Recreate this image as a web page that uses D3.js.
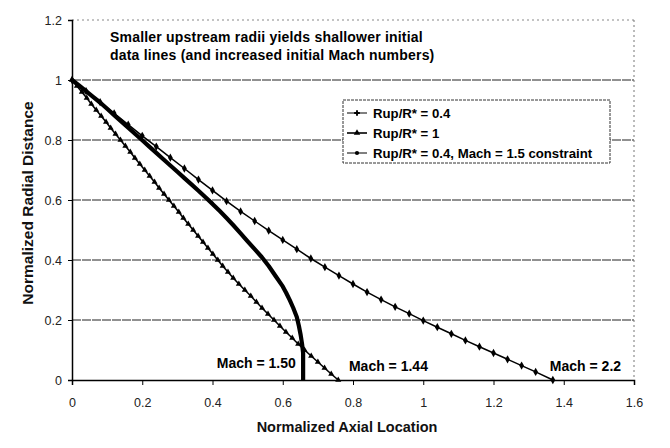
<!DOCTYPE html>
<html>
<head>
<meta charset="utf-8">
<script src="https://cdn.jsdelivr.net/npm/d3@7"></script>
<style>
  html, body { margin: 0; padding: 0; background: #fff; }
  svg { display: block; }
  text { font-family: "Liberation Sans", Arial, sans-serif; }
</style>
</head>
<body>
<svg id="chart" width="670" height="448"></svg>
<script>
// ---------- data ----------
const xTicks = [0, 0.2, 0.4, 0.6, 0.8, 1, 1.2, 1.4, 1.6];
const xTickLabels = ["0", "0.2", "0.4", "0.6", "0.8", "1", "1.2", "1.4", "1.6"];
const yTicks = [0, 0.2, 0.4, 0.6, 0.8, 1, 1.2];
const yTickLabels = ["0", "0.2", "0.4", "0.6", "0.8", "1", "1.2"];

const seriesNames = ["Rup/R* = 0.4", "Rup/R* = 1", "Rup/R* = 0.4, Mach = 1.5 constraint"];

// Rup/R* = 0.4  (ends at Mach = 2.2)
const rup04X = [0, 0.04, 0.08, 0.12, 0.16, 0.20, 0.24, 0.28, 0.32, 0.36, 0.40, 0.44, 0.48, 0.52, 0.56, 0.60,
  0.64, 0.68, 0.72, 0.76, 0.80, 0.84, 0.88, 0.92, 0.96, 1.00, 1.04, 1.08, 1.12, 1.16, 1.20, 1.24, 1.28, 1.32, 1.369];
const rup04Y = [1, 0.963, 0.926, 0.889, 0.851, 0.814, 0.778, 0.741, 0.705, 0.668, 0.632, 0.596, 0.562, 0.530, 0.498, 0.467,
  0.436, 0.405, 0.376, 0.348, 0.320, 0.293, 0.268, 0.244, 0.221, 0.198, 0.176, 0.154, 0.132, 0.111, 0.090, 0.069, 0.048, 0.027, 0];

// Rup/R* = 1  (ends at Mach = 1.44)
const rup1X = [0, 0.014, 0.028, 0.042, 0.055, 0.069, 0.083, 0.097, 0.110, 0.124, 0.138, 0.152, 0.166, 0.179, 0.193, 0.207,
  0.221, 0.235, 0.248, 0.262, 0.276, 0.290, 0.304, 0.317, 0.331, 0.345, 0.359, 0.373, 0.387, 0.401, 0.415, 0.429,
  0.444, 0.459, 0.475, 0.492, 0.509, 0.525, 0.541, 0.558, 0.575, 0.592, 0.609, 0.627, 0.644, 0.662, 0.681, 0.700,
  0.719, 0.738, 0.758];
const rup1Y = [1, 0.98, 0.96, 0.94, 0.92, 0.90, 0.88, 0.86, 0.84, 0.82, 0.80, 0.78, 0.76, 0.74, 0.72, 0.70,
  0.68, 0.66, 0.64, 0.62, 0.60, 0.58, 0.56, 0.54, 0.52, 0.50, 0.48, 0.46, 0.44, 0.42, 0.40, 0.38,
  0.36, 0.34, 0.32, 0.30, 0.28, 0.26, 0.24, 0.22, 0.20, 0.18, 0.16, 0.14, 0.12, 0.10, 0.08, 0.06,
  0.04, 0.02, 0];

// Rup/R* = 0.4, Mach = 1.5 constraint  (ends at Mach = 1.50)
const consX = [0, 0.02, 0.04, 0.06, 0.08, 0.10, 0.12, 0.14, 0.16, 0.18, 0.20, 0.22, 0.24, 0.26, 0.28, 0.30,
  0.32, 0.34, 0.36, 0.38, 0.40, 0.42, 0.44, 0.46, 0.48, 0.50, 0.52, 0.54, 0.56, 0.58, 0.60, 0.61, 0.62, 0.63,
  0.64, 0.646, 0.651, 0.655, 0.658, 0.658, 0.658, 0.658];
const consY = [1, 0.982, 0.963, 0.944, 0.925, 0.904, 0.883, 0.862, 0.841, 0.820, 0.799, 0.778, 0.757, 0.736, 0.715, 0.694,
  0.673, 0.652, 0.631, 0.609, 0.587, 0.564, 0.540, 0.515, 0.489, 0.462, 0.436, 0.410, 0.380, 0.346, 0.312, 0.290, 0.266, 0.240,
  0.210, 0.180, 0.150, 0.120, 0.090, 0.060, 0.030, 0];

const machLabels = ["Mach = 1.50", "Mach = 1.44", "Mach = 2.2"];
const noteLines = ["Smaller upstream radii yields shallower initial", "data lines (and increased initial Mach numbers)"];

// ---------- layout ----------
const svg = d3.select("#chart");
const L = 72, R = 634, T = 20, B = 380;
const x = d3.scaleLinear().domain([0, 1.6]).range([L, R]);
const y = d3.scaleLinear().domain([0, 1.2]).range([B, T]);

// gridlines
svg.append("g").selectAll("line").data(yTicks.filter(v => v > 0)).join("line")
  .attr("x1", L).attr("x2", R)
  .attr("y1", d => y(d)).attr("y2", d => y(d))
  .attr("stroke", d => d === 1.2 ? "#888" : "#222")
  .attr("stroke-width", 1)
  .attr("stroke-dasharray", d => d === 1.2 ? "2,3" : "9,1");

// right border dotted
svg.append("line").attr("x1", R).attr("x2", R).attr("y1", T).attr("y2", B)
  .attr("stroke", "#777").attr("stroke-dasharray", "2,3");

// axes
const xAxis = d3.axisBottom(x).tickValues(xTicks).tickFormat((d, i) => xTickLabels[i]).tickSize(5).tickPadding(13);
const gx = svg.append("g").attr("transform", `translate(0,${B})`).call(xAxis);
const yAxis = d3.axisLeft(y).tickValues(yTicks).tickFormat((d, i) => yTickLabels[i]).tickSize(4).tickPadding(6);
const gy = svg.append("g").attr("transform", `translate(${L},0)`).call(yAxis);
[gx, gy].forEach(g => {
  g.select(".domain").attr("stroke", "#000").attr("stroke-width", 1.5);
  g.selectAll(".tick line").attr("stroke", "#000");
  g.selectAll(".tick text").attr("fill", "#222").attr("font-size", 12.5)
    .attr("font-family", "'Liberation Sans', Arial, sans-serif");
});

// axis titles
svg.append("text").attr("x", 347).attr("y", 432).attr("text-anchor", "middle")
  .attr("font-size", 14.5).attr("font-weight", "bold").attr("fill", "#111").text("Normalized Axial Location");
svg.append("text").attr("transform", `translate(33,203) rotate(-90)`).attr("text-anchor", "middle")
  .attr("font-size", 15.5).attr("font-weight", "bold").attr("fill", "#111").text("Normalized Radial Distance");

// series
const line = d3.line().x(d => x(d[0])).y(d => y(d[1]));
const s04 = rup04X.map((v, i) => [v, rup04Y[i]]);
const s1 = rup1X.map((v, i) => [v, rup1Y[i]]);
const sc = consX.map((v, i) => [v, consY[i]]);

const plot = svg.append("g");
plot.append("path").datum(s04).attr("d", line).attr("fill", "none").attr("stroke", "#000").attr("stroke-width", 1.5);
plot.append("g").selectAll("path").data(s04).join("path")
  .attr("transform", d => `translate(${x(d[0])},${y(d[1])})`)
  .attr("d", d3.symbol(d3.symbolDiamond, 20)).attr("fill", "#000");

plot.append("path").datum(s1).attr("d", line).attr("fill", "none").attr("stroke", "#000").attr("stroke-width", 1.6);
plot.append("g").selectAll("path").data(s1).join("path")
  .attr("transform", d => `translate(${x(d[0])},${y(d[1])})`)
  .attr("d", d3.symbol(d3.symbolTriangle, 16)).attr("fill", "#000");

plot.append("path").datum(sc).attr("d", line).attr("fill", "none").attr("stroke", "#000").attr("stroke-width", 4.2)
  .attr("stroke-linejoin", "round");

// annotations
svg.append("g").selectAll("text").data(noteLines).join("text")
  .attr("x", 110).attr("y", (d, i) => 42 + i * 18).attr("font-size", 14).attr("font-weight", "bold")
  .attr("letter-spacing", 0.2).attr("fill", "#000").text(d => d);

const machPos = [[0.66, "end", -8], [0.76, "start", 10], [1.369, "start", -3]];
svg.append("g").selectAll("text").data(machLabels).join("text")
  .attr("x", (d, i) => x(machPos[i][0]) + machPos[i][2])
  .attr("y", (d, i) => i === 0 ? 368 : 371)
  .attr("text-anchor", (d, i) => machPos[i][1])
  .attr("font-size", 14).attr("font-weight", "bold").attr("fill", "#000").text(d => d);

// legend
const lg = svg.append("g");
lg.append("rect").attr("x", 343).attr("y", 100).attr("width", 267).attr("height", 63)
  .attr("fill", "#fff").attr("stroke", "#333").attr("stroke-dasharray", "3,1");
const rowsY = [113, 133, 153];
seriesNames.forEach((name, i) => {
  const yy = rowsY[i];
  lg.append("line").attr("x1", 347).attr("x2", 367).attr("y1", yy).attr("y2", yy)
    .attr("stroke", "#000").attr("stroke-width", i === 1 ? 1.6 : 1);
  const sym = i === 0 ? d3.symbolCross : (i === 1 ? d3.symbolTriangle : d3.symbolCircle);
  lg.append("path").attr("transform", `translate(357,${yy})`).attr("d", d3.symbol(sym, i === 2 ? 14 : 18)).attr("fill", "#000");
  lg.append("text").attr("x", 373).attr("y", yy + 5).attr("font-size", 13.2).attr("font-weight", "bold")
    .attr("fill", "#000").text(name);
});
</script>
</body>
</html>
